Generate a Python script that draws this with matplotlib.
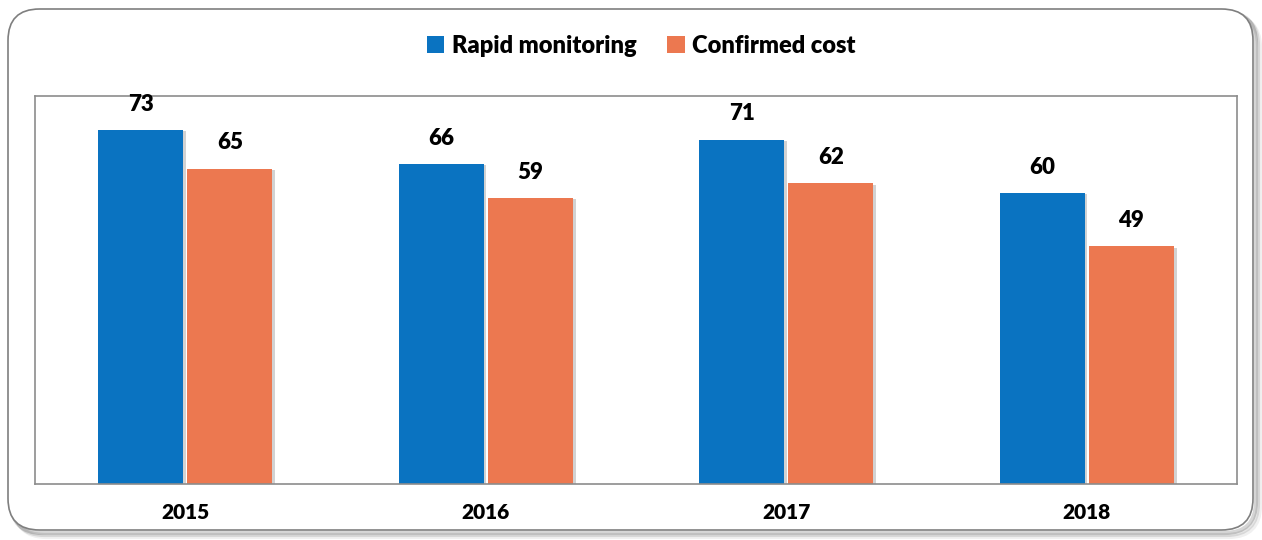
import matplotlib.pyplot as plt
import matplotlib.patheffects as pe
from matplotlib.patches import FancyBboxPatch, Patch
import numpy as np

# Chart data
years = ["2015", "2016", "2017", "2018"]
rapid = [73, 66, 71, 60]
confirmed = [65, 59, 62, 49]
series_names = ["Rapid monitoring", "Confirmed cost"]
colors = ["#0a73c1", "#ec7850"]

plt.rcParams['font.family'] = ['Lato', 'DejaVu Sans']

fig = plt.figure(figsize=(12.62, 5.4), dpi=100)

# rounded outer frame with a soft shadow (drawn in pixel units via figure coords)
W, H = 1262, 540
box_kw = dict(boxstyle="round,pad=0,rounding_size=0.025", transform=fig.transFigure,
              mutation_aspect=W / H)
for off, alpha in [(7, 0.06), (5, 0.10), (3, 0.16)]:
    sh = FancyBboxPatch(((8 + off) / W, (10 - off) / H), 1245 / W, 521 / H,
                        facecolor='none', edgecolor=(0, 0, 0, alpha), linewidth=3,
                        zorder=-2, **box_kw)
    fig.patches.append(sh)
frame = FancyBboxPatch((8 / W, 10 / H), 1245 / W, 521 / H, facecolor='white',
                       edgecolor='#7f7f7f', linewidth=1.2, zorder=-1, **box_kw)
fig.patches.append(frame)

ax = fig.add_axes([35 / W, 56 / H, 1202 / W, 388 / H])
ax.set_facecolor('white')
ax.set_zorder(1)

x = np.arange(len(years))
w = 0.283
gap = 0.007
shadow_fx = [pe.SimplePatchShadow(offset=(2, -1), shadow_rgbFace='#808080', alpha=0.35), pe.Normal()]
b1 = ax.bar(x - w / 2 - gap, rapid, w, color=colors[0], path_effects=shadow_fx)
b2 = ax.bar(x + w / 2 + gap, confirmed, w, color=colors[1], path_effects=shadow_fx)

for bars, vals in [(b1, rapid), (b2, confirmed)]:
    for bar, v in zip(bars, vals):
        ax.annotate(str(v), (bar.get_x() + bar.get_width() / 2, v), xytext=(0, 11),
                    textcoords='offset points', ha='center', va='bottom',
                    fontsize=16, fontweight='heavy', color='black')

ax.set_xlim(-0.5, len(years) - 0.5)
ax.set_ylim(0, 80)
ax.set_yticks([])
ax.set_xticks(x)
ax.set_xticklabels(years, fontsize=15, fontweight='heavy')
ax.tick_params(axis='x', length=0, pad=14)
for s in ax.spines.values():
    s.set_color('#8c8c8c')
    s.set_linewidth(1.2)

handles = [Patch(facecolor=c) for c in colors]
leg = fig.legend(handles=handles, labels=series_names, loc='center', bbox_to_anchor=(641 / W, 1 - 46 / H),
                 ncol=2, frameon=False, fontsize=17, handlelength=0.75, handleheight=0.75,
                 handletextpad=0.3, columnspacing=1.3)
for t in leg.get_texts():
    t.set_fontweight('heavy')

fig.savefig('out.png', dpi=100)
